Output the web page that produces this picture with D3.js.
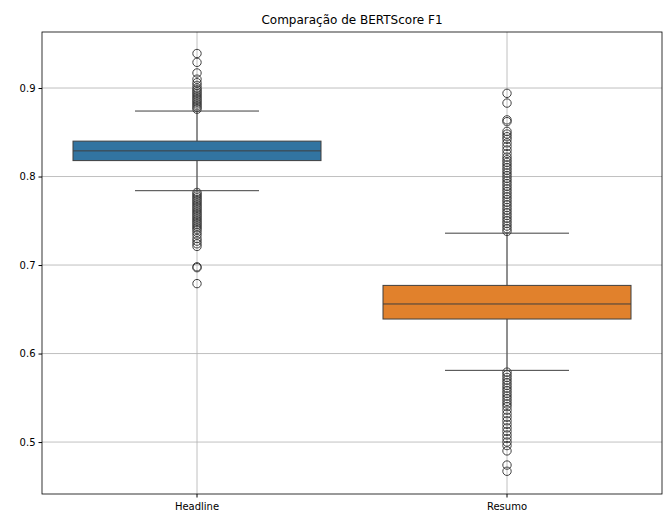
<!DOCTYPE html><html><head><meta charset="utf-8"><script src="https://cdn.jsdelivr.net/npm/d3@7"></script>
<style>body{margin:0;background:#fff}text{font-family:"DejaVu Sans",sans-serif}</style></head><body><svg width="671" height="528"></svg>
<script>
const categories=["Headline","Resumo"];
const colors=["#3274a1","#e1812c"];
const q1=[0.818,0.639], median=[0.829,0.656], q3=[0.840,0.677];
const whiskLo=[0.784,0.581], whiskHi=[0.874,0.736];
const outHeadline=[0.939,0.929,0.917,0.910,0.906,0.903,0.900,0.898,0.896,0.894,0.892,0.890,0.888,0.886,0.884,0.882,0.880,0.878,0.876,
 0.782,0.780,0.778,0.776,0.774,0.772,0.770,0.768,0.766,0.764,0.762,0.760,0.758,0.756,0.754,0.752,0.750,0.748,0.746,0.744,0.742,0.740,0.737,0.734,0.730,0.727,0.724,0.721,0.698,0.697,0.679];
const outResumo=[0.894,0.883,0.864,0.862,0.851,0.848,0.845,0.842,0.838,0.834,0.830,0.826,0.822,0.819,0.816,0.813,0.810,0.807,0.804,0.801,0.798,0.795,0.792,0.789,0.786,0.783,0.780,0.777,0.774,0.771,0.768,0.765,0.762,0.759,0.756,0.753,0.750,0.747,0.744,0.741,0.738,
 0.579,0.576,0.573,0.570,0.567,0.564,0.561,0.558,0.555,0.552,0.549,0.546,0.543,0.540,0.536,0.532,0.528,0.524,0.520,0.516,0.512,0.508,0.504,0.500,0.496,0.490,0.474,0.467];
const outliers=[outHeadline,outResumo];
const yTicks=[0.5,0.6,0.7,0.8,0.9];
const svg=d3.select("svg");
const L=42,R=662,T=32,B=494;
const x=d3.scaleBand().domain(categories).range([L,R]).paddingInner(0).paddingOuter(0);
const y=d3.scaleLinear().domain([0.4413,0.9633]).range([B,T]);
// grid
svg.append("g").selectAll("line").data(yTicks).join("line").attr("x1",L).attr("x2",R).attr("y1",d=>y(d)).attr("y2",d=>y(d)).attr("stroke","#b0b0b0").attr("stroke-width",0.8);
svg.append("g").selectAll("line").data(categories).join("line").attr("x1",d=>x(d)+x.bandwidth()/2).attr("x2",d=>x(d)+x.bandwidth()/2).attr("y1",T).attr("y2",B).attr("stroke","#b0b0b0").attr("stroke-width",0.8);
const bw=x.bandwidth()*0.8;
categories.forEach((c,i)=>{
 const cx=x(c)+x.bandwidth()/2, g=svg.append("g"), st="#3f3f3f";
 g.append("line").attr("x1",cx).attr("x2",cx).attr("y1",y(whiskHi[i])).attr("y2",y(q3[i])).attr("stroke",st);
 g.append("line").attr("x1",cx).attr("x2",cx).attr("y1",y(whiskLo[i])).attr("y2",y(q1[i])).attr("stroke",st);
 g.append("line").attr("x1",cx-bw/4).attr("x2",cx+bw/4).attr("y1",y(whiskHi[i])).attr("y2",y(whiskHi[i])).attr("stroke",st);
 g.append("line").attr("x1",cx-bw/4).attr("x2",cx+bw/4).attr("y1",y(whiskLo[i])).attr("y2",y(whiskLo[i])).attr("stroke",st);
 g.append("rect").attr("x",cx-bw/2).attr("width",bw).attr("y",y(q3[i])).attr("height",y(q1[i])-y(q3[i])).attr("fill",colors[i]).attr("stroke",st);
 g.append("line").attr("x1",cx-bw/2).attr("x2",cx+bw/2).attr("y1",y(median[i])).attr("y2",y(median[i])).attr("stroke",st);
 g.selectAll("circle").data(outliers[i]).join("circle").attr("cx",cx).attr("cy",d=>y(d)).attr("r",4.2).attr("fill","none").attr("stroke",st).attr("stroke-width",1);
});
svg.append("rect").attr("x",L).attr("y",T).attr("width",R-L).attr("height",B-T).attr("fill","none").attr("stroke","#000").attr("stroke-width",0.8);
const ya=svg.append("g").attr("transform",`translate(${L},0)`).call(d3.axisLeft(y).tickValues(yTicks).tickFormat(d3.format(".1f")).tickSize(3.5).tickSizeOuter(0));
ya.select(".domain").remove(); ya.selectAll("text").attr("font-size",10).attr("fill","#000");
const xa=svg.append("g").attr("transform",`translate(0,${B})`).call(d3.axisBottom(x).tickSize(3.5).tickSizeOuter(0));
xa.select(".domain").remove(); xa.selectAll("text").attr("font-size",10).attr("fill","#000").attr("dy","0.9em");
svg.append("text").attr("x",(L+R)/2).attr("y",T-8).attr("text-anchor","middle").attr("font-size",12).text("Comparação de BERTScore F1");
</script></body></html>
